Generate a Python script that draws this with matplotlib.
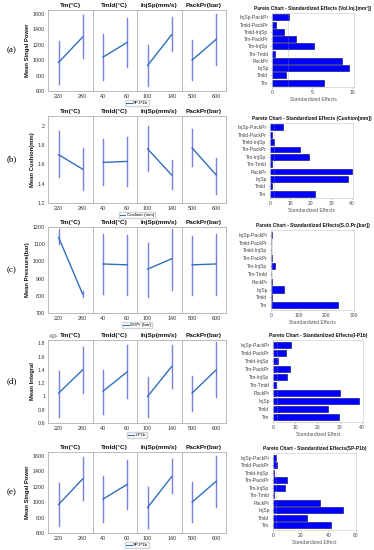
import matplotlib
matplotlib.use("Agg")
import matplotlib.pyplot as plt
from matplotlib.lines import Line2D

plt.rcParams["font.family"] = ["Liberation Sans", "DejaVu Sans"]

W, H = 374, 550

factors = ["Tm(°C)", "Tmld(°C)", "InjSp(mm/s)", "PackPr(bar)"]
levels = [[220, 260], [40, 60], [100, 140], [500, 600]]

# main effects: mean, low, high for each factor (two levels)
sp_mean = [[970, 1300], [1040, 1230], [930, 1330], [1000, 1270]]
sp_lo = [[690, 1030], [740, 910], [660, 1120], [740, 940]]
sp_hi = [[1250, 1580], [1340, 1550], [1200, 1560], [1260, 1600]]

cu_mean = [[1.70, 1.55], [1.62, 1.63], [1.76, 1.49], [1.77, 1.49]]
cu_lo = [[1.47, 1.33], [1.39, 1.38], [1.53, 1.34], [1.58, 1.29]]
cu_hi = [[1.94, 1.77], [1.86, 1.88], [2.00, 1.64], [1.97, 1.67]]

pr_mean = [[1140, 810], [985, 980], [955, 1015], [980, 985]]
pr_lo = [[1100, 795], [810, 805], [795, 835], [805, 805]]
pr_hi = [[1190, 830], [1160, 1155], [1105, 1190], [1145, 1160]]

in_mean = [[1.05, 1.40], [1.08, 1.37], [1.00, 1.45], [1.05, 1.40]]
in_lo = [[0.69, 1.05], [0.74, 0.98], [0.69, 1.13], [0.78, 0.99]]
in_hi = [[1.39, 1.75], [1.40, 1.77], [1.29, 1.78], [1.31, 1.82]]

terms = ["InjSp-PackPr", "Tmld-PackPr", "Tmld-InjSp", "Tm-PackPr", "Tm-InjSp",
         "Tm-Tmld", "PackPr", "InjSp", "Tmld", "Tm"]
eff_a = [2.1, 0.5, 1.45, 3.0, 5.2, 0.33, 8.7, 9.55, 1.77, 6.46]
eff_b = [6.5, 0.8, 2.1, 14.5, 19.1, 1.0, 40.0, 38.0, 1.1, 21.9]
eff_c = [4, 1, 1, 5, 14, 1, 5, 47, 5, 242]
eff_d = [8.1, 6.0, 2.2, 7.5, 6.4, 1.2, 30.0, 38.7, 24.9, 29.5]
eff_e = [1.9, 2.9, 0.5, 10.4, 8.4, 0.7, 33.7, 50.6, 24.6, 42.2]

rows = [
    dict(tag="(a)", mean=sp_mean, lo=sp_lo, hi=sp_hi, ylabel="Mean Singal Power",
         ylim=(600, 1650), yticks=[600, 800, 1000, 1200, 1400, 1600], leg="SP-P1b",
         box=(10, 91), eff=eff_a, xlim=10.2, xt=[0, 5, 10], pbox=(272, 354, 13, 87),
         ptitle="Pareto Chart - Standardized Effects (Vol.Inj.[mm³])",
         pxl="Standardized Effects"),
    dict(tag="(b)", mean=cu_mean, lo=cu_lo, hi=cu_hi, ylabel="Mean Cushion(mm)",
         ylim=(1.2, 2.1), yticks=[1.2, 1.4, 1.6, 1.8, 2.0], yfmt=["1.2", "1.4", "1.6", "1.8", "2"],
         leg="Cushion (mm)", box=(116, 203), eff=eff_b, xlim=40.5, xt=[0, 10, 20, 30, 40],
         pbox=(270, 353, 123, 198),
         ptitle="Pareto Chart - Standardized Effects (Cushion[mm])",
         pxl="Standardized Effects"),
    dict(tag="(c)", mean=pr_mean, lo=pr_lo, hi=pr_hi, ylabel="Mean Pressure(bar)",
         ylim=(700, 1200), yticks=[700, 800, 900, 1000, 1100, 1200], leg="SOPr (bar)",
         box=(227, 313), eff=eff_c, xlim=300, xt=[0, 100, 200, 300], pbox=(271, 354, 230, 310),
         ptitle="Pareto Chart - Standardized Effects(S.O.Pr.[bar])",
         pxl="Standardized Effects"),
    dict(tag="(d)", mean=in_mean, lo=in_lo, hi=in_hi, ylabel="Mean Integral",
         ylim=(0.6, 1.85), yticks=[0.6, 0.8, 1.0, 1.2, 1.4, 1.6, 1.8],
         yfmt=["0.6", "0.8", "1", "1.2", "1.4", "1.6", "1.8"], mult=True,
         leg="I-P1b", box=(340, 423), eff=eff_d, xlim=40.5, xt=[0, 10, 20, 30, 40],
         pbox=(273, 363, 340, 422),
         ptitle="Pareto Chart - Standardized Effects(I-P1b)",
         pxl="Standardized Effect"),
    dict(tag="(e)", mean=sp_mean, lo=sp_lo, hi=sp_hi, ylabel="Mean Singal Power",
         ylim=(600, 1650), yticks=[600, 800, 1000, 1200, 1400, 1600], leg="SP-P1b",
         box=(452, 533), eff=eff_e, xlim=60, xt=[0, 20, 40, 60], pbox=(273, 356, 453, 530),
         ptitle="Pareto Chart - Standardized Effects(SP-P1b)",
         pxl="Standardized Effect"),
]

fig = plt.figure(figsize=(W / 100, H / 100), dpi=100)
fig.patch.set_facecolor("white")

line_c = "#2f6fc0"
err_c = "#7b7fe0"
frame_c = "#b0b0b0"
txt_c = "#333333"

sub_l = [48, 92.5, 137, 181.5, 226]

for r in rows:
    top, bot = r["box"]
    for k in range(4):
        x0 = sub_l[k]
        x1 = sub_l[k + 1]
        ax = fig.add_axes([x0 / W, 1 - bot / H, (x1 - x0) / W, (bot - top) / H])
        xs = levels[k]
        for j in range(2):
            ax.plot([xs[j], xs[j]], [r["lo"][k][j], r["hi"][k][j]], color=err_c, lw=1.0)
        ax.plot(xs, r["mean"][k], color=line_c, lw=1.0)
        span = xs[1] - xs[0]
        ax.set_xlim(xs[0] - 0.44 * span, xs[1] + 0.41 * span)
        ax.set_xticks(xs)
        ax.set_ylim(*r["ylim"])
        ax.set_yticks(r["yticks"])
        ax.tick_params(labelsize=3.9, length=0, pad=2, colors=txt_c)
        for s in ax.spines.values():
            s.set_color(frame_c)
            s.set_linewidth(0.6)
        ax.set_title(factors[k], fontsize=4.6, fontweight="bold", pad=2, color="#111111")
        if k == 0:
            if "yfmt" in r:
                ax.set_yticklabels(r["yfmt"])
            ax.set_ylabel(r["ylabel"], fontsize=4.2, fontweight="bold", labelpad=2, color="#111111")
        else:
            ax.set_yticklabels([])
        if r.get("mult") and k == 0:
            ax.text(0.02, 1.01, "×10³", transform=ax.transAxes, fontsize=3.3, ha="left",
                    va="bottom", color=txt_c)
    # legend below
    h = [Line2D([], [], color=line_c, lw=0.8)]
    fig.legend(h, [r["leg"]], loc="center", bbox_to_anchor=(137 / W, 1 - (bot + 12) / H),
               fontsize=3.2, frameon=True, handlelength=1.2, borderpad=0.3,
               handletextpad=0.3, fancybox=False, edgecolor="#c8c8c8")
    fig.text(12 / W, 1 - (top + bot) / 2 / H, r["tag"], fontsize=6.5,
             family=["Liberation Serif", "DejaVu Serif"], ha="center", va="center")

    # pareto chart
    pl, pr_, pt, pb = r["pbox"]
    pax = fig.add_axes([pl / W, 1 - pb / H, (pr_ - pl) / W, (pb - pt) / H])
    ypos = list(range(len(terms)))[::-1]
    pax.barh(ypos, r["eff"], height=0.8, color="#0000ff", edgecolor="#00006a", linewidth=0.4)
    pax.axvline(2.0, color="#999999", lw=0.5, ls=":")
    pax.set_yticks(ypos)
    pax.set_yticklabels(terms)
    pax.set_ylim(-0.6, len(terms) - 0.4)
    pax.set_xlim(0, r["xlim"])
    pax.set_xticks(r["xt"])
    pax.tick_params(labelsize=3.6, length=1, width=0.4, pad=1.5, colors="#444444")
    for s in pax.spines.values():
        s.set_color("#d0d0d0")
        s.set_linewidth(0.5)
    pax.set_title(r["ptitle"], fontsize=3.5, fontweight="bold", pad=2.5, color="#111111")
    pax.set_xlabel(r["pxl"], fontsize=3.6, labelpad=1, color="#555555")

fig.savefig("out.png", dpi=100)
